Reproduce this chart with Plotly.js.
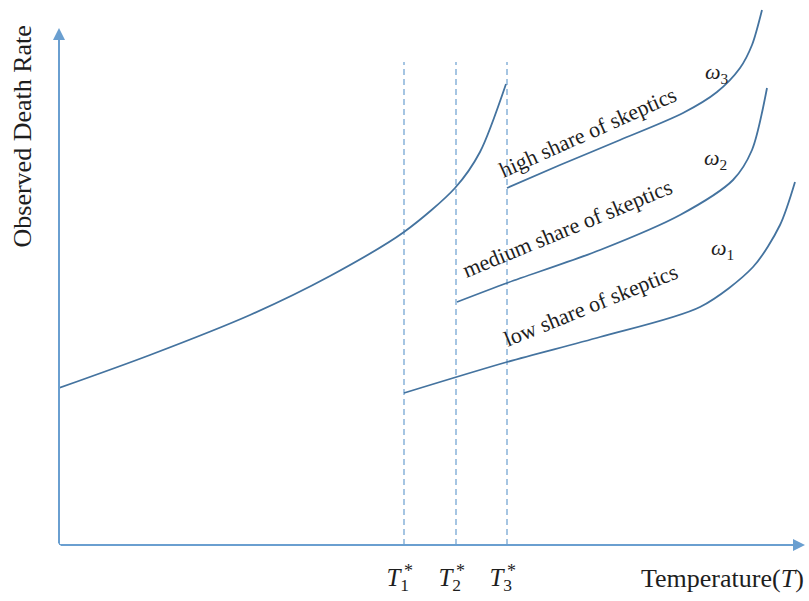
<!DOCTYPE html>
<html><head><meta charset="utf-8">
<script src="https://cdn.plot.ly/plotly-3.0.1.min.js"></script>
<style>body{margin:0;background:#fff}#c{width:809px;height:601px}</style>
</head><body><div id="c"></div>
<script>
// data (x: temperature units, y: death rate units)
var baseX = [0, 91, 191, 271, 345, 396, 421, 447];
var baseY = [157, 190, 230, 269, 313, 357, 393, 461];
var highX = [448, 501, 561, 624, 658, 681, 693, 703];
var highY = [357, 380, 405, 432, 453, 477, 500, 535];
var medX = [398, 448, 541, 621, 674, 693, 708];
var medY = [243, 262, 295, 330, 365, 395, 457];
var lowX = [345, 448, 541, 641, 694, 721, 736];
var lowY = [152, 183, 208, 238, 278, 320, 363];
var thresholds = [345, 397, 448];
var thresholdLabels = ["<i>T</i><sub>1</sub>\u00a0\u00a0", "<i>T</i><sub>2</sub>\u00a0\u00a0", "<i>T</i><sub>3</sub>\u00a0\u00a0"];
var dashTop = 483;

var curveColor = "#44739f";
var axisColor = "#6a9fd0";
var serif = "Liberation Serif";
var txt = "#1e1e1e";

var traces = [];
function curve(x, y) {
  traces.push({x: x, y: y, mode: "lines", line: {color: curveColor, width: 1.8, shape: "spline", smoothing: 0.8},
    hoverinfo: "skip", showlegend: false, cliponaxis: false});
}
thresholds.forEach(function (t) {
  traces.push({x: [t, t], y: [0, dashTop], mode: "lines", line: {color: axisColor, width: 1.2, dash: "6px,4px"},
    hoverinfo: "skip", showlegend: false});
});
curve(baseX, baseY); curve(highX, highY); curve(medX, medY); curve(lowX, lowY);

var ann = [
  {x: 746, y: 0, ax: 0, ay: 0, axref: "x", ayref: "y", showarrow: true, arrowhead: 2, arrowsize: 1.2, arrowwidth: 2, arrowcolor: axisColor, text: ""},
  {x: 0, y: 517, ax: 0, ay: 0, axref: "x", ayref: "y", showarrow: true, arrowhead: 2, arrowsize: 1.2, arrowwidth: 2, arrowcolor: axisColor, text: ""},
  {xref: "paper", yref: "paper", x: -0.049, y: 0.75, xanchor: "center", yanchor: "middle", text: "Observed Death Rate", textangle: -90, showarrow: false, font: {family: serif, size: 26, color: txt}},
  {xref: "x", yref: "paper", x: 663, y: -0.0606, xanchor: "center", yanchor: "middle", text: "Temperature(<i>T</i>)", showarrow: false, font: {family: serif, size: 26, color: txt}},
  {x: 528, y: 413, text: "high share of skeptics", textangle: -24, showarrow: false, font: {family: serif, size: 22, color: txt}},
  {x: 508, y: 317, text: "medium share of skeptics", textangle: -22.4, showarrow: false, font: {family: serif, size: 22, color: txt}},
  {x: 531, y: 240, text: "low share of skeptics", textangle: -22, showarrow: false, font: {family: serif, size: 22, color: txt}},
  {x: 658, y: 472, text: "<i>ω</i><sub>3</sub>", showarrow: false, font: {family: serif, size: 22, color: txt}},
  {x: 656, y: 386, text: "<i>ω</i><sub>2</sub>", showarrow: false, font: {family: serif, size: 22, color: txt}},
  {x: 663, y: 296, text: "<i>ω</i><sub>1</sub>", showarrow: false, font: {family: serif, size: 22, color: txt}}
];
thresholds.forEach(function (t) {
  ann.push({xref: "x", yref: "paper", x: t + 4, y: -0.047, xanchor: "center", yanchor: "middle", text: "*", showarrow: false, font: {family: serif, size: 18, color: txt}});
});

Plotly.newPlot("c", traces, {
  width: 809, height: 601,
  margin: {l: 59, r: 0, t: 0, b: 56},
  paper_bgcolor: "#fff", plot_bgcolor: "#fff",
  xaxis: {range: [0, 750], showgrid: false, zeroline: false, showline: false,
    tickvals: thresholds, ticktext: thresholdLabels, ticks: "", ticklabelstandoff: 15,
    tickfont: {family: serif, size: 25, color: txt}},
  yaxis: {range: [0, 545], showgrid: false, zeroline: false, showline: false, showticklabels: false},
  shapes: [
    {type: "line", xref: "x", yref: "y", x0: 0, x1: 740, y0: 0, y1: 0, line: {color: axisColor, width: 2}},
    {type: "line", xref: "x", yref: "y", x0: 0, x1: 0, y0: 0, y1: 510, line: {color: axisColor, width: 2}}
  ],
  annotations: ann
}, {displayModeBar: false, staticPlot: true});
</script></body></html>
